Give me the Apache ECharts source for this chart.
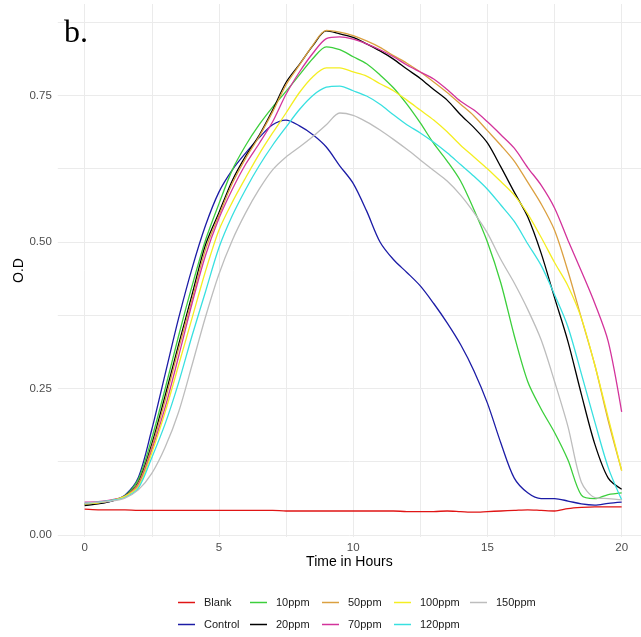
<!DOCTYPE html>
<html>
<head>
<meta charset="utf-8">
<script src="https://cdn.jsdelivr.net/npm/echarts@6/dist/echarts.min.js"></script>
<style>
	html, body { margin: 0; padding: 0; background: #fff; }
	#chart { width: 641px; height: 637px; }
</style>
</head>
<body>
<div id="chart"></div>
<script>
// time in hours, every half hour
var hours = [0, 0.5, 1, 1.5, 2, 2.5, 3, 3.5, 4, 4.5, 5, 5.5, 6, 6.5, 7, 7.5, 8, 8.5, 9, 9.5, 10,
	10.5, 11, 11.5, 12, 12.5, 13, 13.5, 14, 14.5, 15, 15.5, 16, 16.5, 17, 17.5, 18, 18.5, 19, 19.5, 20];

// O.D readings
var blank = [0.044, 0.043, 0.043, 0.043, 0.042, 0.042, 0.042, 0.042, 0.042, 0.042, 0.042, 0.042, 0.042, 0.042, 0.042, 0.041, 0.041, 0.041, 0.041, 0.041, 0.041,
	0.041, 0.041, 0.041, 0.040, 0.040, 0.040, 0.041, 0.040, 0.039, 0.040, 0.041, 0.042, 0.043, 0.042, 0.041, 0.045, 0.047, 0.048, 0.048, 0.048];
var control = [0.052, 0.054, 0.058, 0.068, 0.098, 0.180, 0.275, 0.370, 0.455, 0.528, 0.585, 0.623, 0.652, 0.678, 0.700, 0.708, 0.698, 0.683, 0.662, 0.630, 0.600,
	0.553, 0.500, 0.470, 0.448, 0.425, 0.395, 0.362, 0.325, 0.280, 0.225, 0.157, 0.097, 0.072, 0.062, 0.062, 0.058, 0.053, 0.051, 0.054, 0.056];
var ppm10 = [0.053, 0.055, 0.059, 0.067, 0.095, 0.165, 0.250, 0.340, 0.425, 0.503, 0.565, 0.623, 0.665, 0.700, 0.730, 0.757, 0.785, 0.813, 0.833, 0.828, 0.816,
	0.804, 0.785, 0.763, 0.735, 0.703, 0.668, 0.638, 0.604, 0.555, 0.500, 0.430, 0.340, 0.262, 0.215, 0.175, 0.128, 0.068, 0.062, 0.069, 0.072];
var ppm20 = [0.050, 0.053, 0.058, 0.066, 0.090, 0.155, 0.238, 0.325, 0.410, 0.495, 0.550, 0.605, 0.647, 0.682, 0.725, 0.772, 0.803, 0.835, 0.860, 0.855, 0.849,
	0.838, 0.826, 0.812, 0.795, 0.779, 0.760, 0.742, 0.717, 0.695, 0.669, 0.628, 0.585, 0.543, 0.481, 0.405, 0.330, 0.240, 0.155, 0.097, 0.078];
var ppm50 = [0.053, 0.055, 0.059, 0.066, 0.088, 0.150, 0.230, 0.318, 0.402, 0.487, 0.545, 0.600, 0.643, 0.680, 0.722, 0.768, 0.802, 0.836, 0.861, 0.858, 0.852,
	0.843, 0.832, 0.818, 0.805, 0.790, 0.773, 0.755, 0.735, 0.715, 0.690, 0.665, 0.638, 0.602, 0.565, 0.520, 0.450, 0.370, 0.290, 0.195, 0.110];
var ppm70 = [0.056, 0.057, 0.060, 0.066, 0.085, 0.145, 0.218, 0.305, 0.395, 0.477, 0.540, 0.590, 0.633, 0.668, 0.705, 0.752, 0.790, 0.822, 0.847, 0.850, 0.846,
	0.838, 0.828, 0.816, 0.802, 0.790, 0.778, 0.760, 0.740, 0.725, 0.705, 0.683, 0.660, 0.627, 0.597, 0.558, 0.503, 0.450, 0.395, 0.330, 0.210];
var ppm100 = [0.053, 0.055, 0.059, 0.066, 0.083, 0.140, 0.210, 0.290, 0.370, 0.450, 0.520, 0.568, 0.610, 0.650, 0.686, 0.720, 0.755, 0.782, 0.797, 0.797, 0.790,
	0.783, 0.770, 0.758, 0.742, 0.725, 0.708, 0.688, 0.665, 0.645, 0.625, 0.603, 0.580, 0.548, 0.508, 0.465, 0.425, 0.370, 0.290, 0.200, 0.110];
var ppm120 = [0.054, 0.056, 0.059, 0.064, 0.080, 0.132, 0.190, 0.260, 0.340, 0.415, 0.490, 0.545, 0.590, 0.630, 0.665, 0.696, 0.726, 0.750, 0.764, 0.766, 0.758,
	0.749, 0.735, 0.717, 0.700, 0.686, 0.670, 0.652, 0.632, 0.612, 0.590, 0.563, 0.535, 0.497, 0.460, 0.410, 0.355, 0.275, 0.193, 0.115, 0.060];
var ppm150 = [0.054, 0.056, 0.058, 0.063, 0.077, 0.105, 0.150, 0.210, 0.290, 0.372, 0.445, 0.503, 0.550, 0.590, 0.623, 0.645, 0.662, 0.680, 0.700, 0.720, 0.716,
	0.705, 0.691, 0.675, 0.658, 0.640, 0.622, 0.604, 0.580, 0.550, 0.515, 0.470, 0.430, 0.385, 0.333, 0.262, 0.185, 0.090, 0.064, 0.062, 0.060];

var names = ["Blank", "Control", "10ppm", "20ppm", "50ppm", "70ppm", "100ppm", "120ppm", "150ppm"];
var values = [blank, control, ppm10, ppm20, ppm50, ppm70, ppm100, ppm120, ppm150];
var colors = ["#e01515", "#1c1ca6", "#3ccf3c", "#000000", "#dba040", "#d3339b", "#f4ee22", "#38e0e0", "#bdbdbd"];

var xLabels = [0, 5, 10, 15, 20];
var xLines = [0, 2.5, 5, 7.5, 10, 12.5, 15, 17.5, 20];
var yLabels = [0, 0.25, 0.5, 0.75];
var yLines = [0, 0.125, 0.25, 0.375, 0.5, 0.625, 0.75, 0.875];

var chart = echarts.init(document.getElementById('chart'));

var gridColor = '#ebebeb';
var font = 'Liberation Sans';

var series = [];
for (var i = 0; i < names.length; i++) {
	var pts = [];
	for (var j = 0; j < hours.length; j++) {
		pts.push([hours[j], values[i][j]]);
	}
	series.push({
		name: names[i],
		type: 'line',
		data: pts,
		smooth: 0.3,
		symbol: 'none',
		animation: false,
		lineStyle: { width: 1.3, color: colors[i] },
		itemStyle: { color: colors[i] }
	});
}

// legend columns, ggplot fills them column by column
var legendCols = [[0, 1], [2, 3], [4, 5], [6, 7], [8]];
var legendLeft = [178, 250, 322, 394, 470];
var legends = [];
for (var c = 0; c < legendCols.length; c++) {
	legends.push({
		orient: 'vertical',
		left: legendLeft[c],
		top: 597,
		icon: 'rect',
		itemWidth: 17,
		itemHeight: 1.5,
		itemGap: 11,
		padding: 0,
		selectedMode: false,
		data: legendCols[c].map(function(k) { return names[k]; }),
		textStyle: { fontFamily: font, fontSize: 11, color: '#1a1a1a', padding: [0, 0, 0, 4] }
	});
}

var option = {
	backgroundColor: '#ffffff',
	animation: false,
	color: colors,
	title: {
		text: 'b.',
		left: 64,
		top: 18,
		padding: 0,
		textStyle: { fontFamily: 'Liberation Serif', fontSize: 32, fontWeight: 'normal', color: '#000' }
	},
	legend: legends,
	grid: { left: 57.8, right: 0, top: 4, bottom: 100, containLabel: false, outerBoundsMode: 'none' },
	xAxis: {
		type: 'value',
		min: -1,
		max: 20.72,
		name: 'Time in Hours',
		nameLocation: 'middle',
		nameGap: 18,
		nameMoveOverlap: false,
		nameTextStyle: { fontFamily: font, fontSize: 14, color: '#000' },
		axisLine: { show: false },
		axisTick: { show: false, customValues: xLines },
		axisLabel: {
			customValues: xLabels,
			margin: 5,
			fontFamily: font,
			fontSize: 11.5,
			color: '#4d4d4d'
		},
		splitLine: { show: true, lineStyle: { color: gridColor, width: 1 } }
	},
	yAxis: {
		type: 'value',
		min: -0.0034,
		max: 0.906,
		name: 'O.D',
		nameLocation: 'middle',
		nameGap: 32,
		nameMoveOverlap: false,
		nameTextStyle: { fontFamily: font, fontSize: 14, color: '#000' },
		axisLine: { show: false },
		axisTick: { show: false, customValues: yLines },
		axisLabel: {
			customValues: yLabels,
			margin: 6,
			fontFamily: font,
			fontSize: 11.5,
			color: '#4d4d4d',
			formatter: function(v) { return v.toFixed(2); }
		},
		splitLine: { show: true, lineStyle: { color: gridColor, width: 1 } }
	},
	series: series
};

chart.setOption(option);
</script>
</body>
</html>
